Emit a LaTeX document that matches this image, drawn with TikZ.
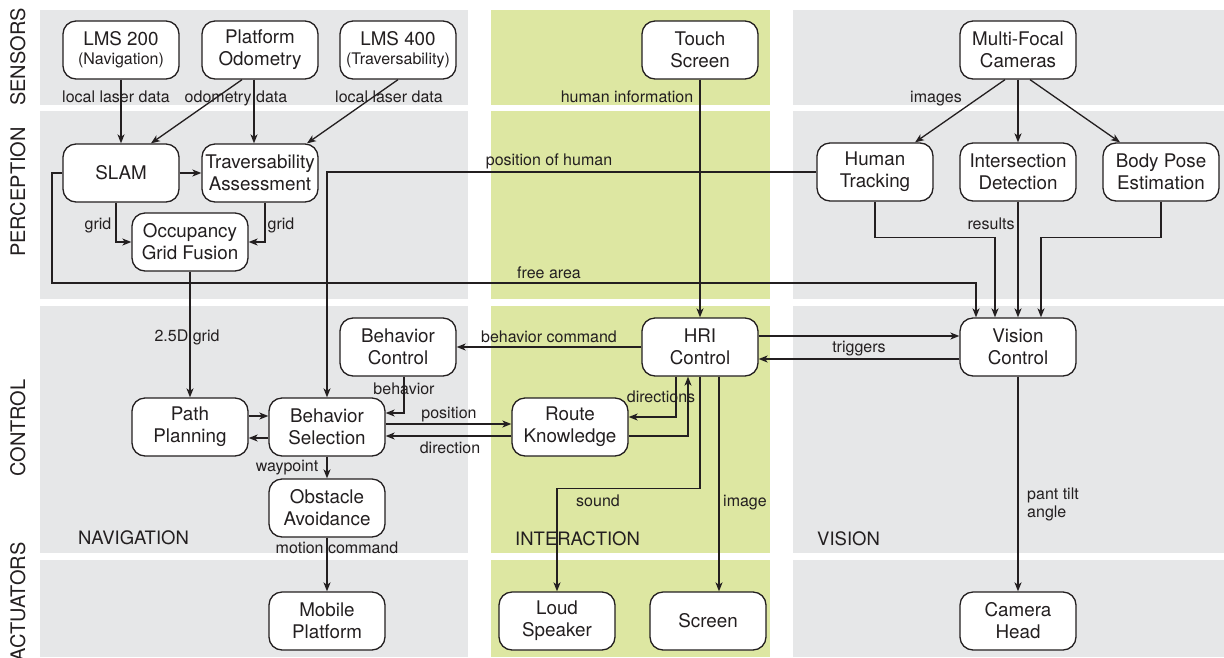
\documentclass[tikz,border=0pt]{standalone}
\usepackage{fontspec}
\setmainfont{TeX Gyre Heros}
\usetikzlibrary{arrows.meta,calc}
\definecolor{panelgray}{RGB}{230,231,232}
\definecolor{panelgreen}{RGB}{221,231,162}
\definecolor{ink}{RGB}{35,31,32}

\begin{document}
\begin{tikzpicture}[x=1pt,y=-1pt,
  box/.style={draw=ink,line width=1.3pt,fill=white,rounded corners=13pt,
    minimum width=116pt,minimum height=58pt,inner sep=0pt,align=center,
    text=ink,font=\fontsize{18.8}{22}\selectfont},
  lbl/.style={inner sep=0pt,anchor=base,text=ink,font=\fontsize{16}{18}\selectfont},
  rowlbl/.style={inner sep=0pt,anchor=base,rotate=90,text=ink,font=\fontsize{20}{24}\selectfont},
  collbl/.style={inner sep=0pt,anchor=base west,text=ink,font=\fontsize{18.5}{22}\selectfont},
  flow/.style={draw=ink,line width=1.3pt},
  arr/.style={flow,-{Stealth[length=9pt,width=7pt,inset=2.5pt]}},
]
\useasboundingbox (0,0) rectangle (1224,657);

% background panels: three columns by four layers
\foreach \ya/\yb in {10/105,111/299,306/553,560/657}{
  \fill[panelgray]  (40,\ya)  rectangle (468,\yb);
  \fill[panelgreen] (491,\ya) rectangle (770,\yb);
  \fill[panelgray]  (793,\ya) rectangle (1224,\yb);
}

% layer names
\node[rowlbl] (rsens) at (25,57)  {SENSORS};
\node[rowlbl] (rperc) at (25,192) {PERCEPTION};
\node[rowlbl] (rctrl) at (25,428) {CONTROL};
\node[rowlbl] (ract)  at (25,602) {ACTUATORS};

% column names
\node[collbl] (cnav) at (78,544)  {NAVIGATION};
\node[collbl] (cint) at (515,545) {INTERACTION};
\node[collbl] (cvis) at (817,545) {VISION};

% sensors
\node[box] (lms2)  at (121,50)  {LMS 200\\[-3pt]{\fontsize{16}{18}\selectfont(Navigation)}};
\node[box] (odo)   at (260,50)  {Platform\\Odometry};
\node[box] (lms4)  at (398,50)  {LMS 400\\[-3pt]{\fontsize{16}{18}\selectfont(Traversability)}};
\node[box] (touch) at (700,50)  {Touch\\Screen};
\node[box] (mfc)   at (1018,50) {Multi-Focal\\Cameras};

% perception
\node[box] (slam) at (121,173)  {SLAM};
\node[box] (trav) at (260,173)  {Traversability\\Assessment};
\node[box] (ogf)  at (190,242)  {Occupancy\\Grid Fusion};
\node[box] (ht)   at (875,172)  {Human\\Tracking};
\node[box] (isd)  at (1018,172) {Intersection\\Detection};
\node[box] (bpe)  at (1161,172) {Body Pose\\Estimation};

% control
\node[box] (bc)  at (398,347)  {Behavior\\Control};
\node[box] (hri) at (700,347)  {HRI\\Control};
\node[box] (vc)  at (1018,347) {Vision\\Control};
\node[box] (pp)  at (190,427)  {Path\\Planning};
\node[box] (bs)  at (327,427)  {Behavior\\Selection};
\node[box] (rk)  at (570,427)  {Route\\Knowledge};
\node[box] (oa)  at (327,508)  {Obstacle\\Avoidance};

% actuators
\node[box] (mp)  at (327,621)  {Mobile\\Platform};
\node[box] (ls)  at (557,621)  {Loud\\Speaker};
\node[box] (scr) at (708,621)  {Screen};
\node[box] (ch)  at (1018,621) {Camera\\Head};

% sensor data flows
\draw[arr] (lms2.south) -- (slam.north);
\node[lbl] (t1) at (116,102) {local laser data};
\draw[arr] ([xshift=-18pt]odo.south) -- ([xshift=30pt]slam.north);
\node[lbl] (t2) at (236,102) {odometry data};
\draw[arr] ([xshift=-6pt]odo.south) -- ([xshift=-6pt]trav.north);
\draw[arr] (lms4.south) -- ([xshift=47pt]trav.north);
\node[lbl] (t3) at (389,102) {local laser data};
\draw[arr] (touch.south) -- (hri.north);
\node[lbl] (t4) at (627,102) {human information};
\draw[arr] ([xshift=-13pt]mfc.south) -- ([xshift=40pt]ht.north);
\node[lbl] (t5) at (936,102) {images};
\draw[arr] (mfc.south) -- (isd.north);
\draw[arr] ([xshift=12pt]mfc.south) -- ([xshift=-41pt]bpe.north);

% perception flows
\draw[arr] (slam.east) -- (trav.west);
\draw[arr] ([xshift=-5pt]slam.south) |- (ogf.west);
\node[lbl] (t6) at (98,229) {grid};
\draw[arr] ([xshift=5pt]trav.south) |- (ogf.east);
\node[lbl] (t7) at (281,229) {grid};
\coordinate (fa) at (52,283);
\draw[arr] (slam.west) -| (fa) -| ([xshift=-42pt]vc.north);
\node[lbl] (t8) at (549,278) {free area};
\draw[arr] (ogf.south) -- (pp.north);
\node[lbl] (t9) at (187,341) {2.5D grid};
\draw[arr] (ht.west) -| (bs.north);
\node[lbl] (t10) at (549,165) {position of human};
\draw[arr] (ht.south) -- ++(0,36) -| ([xshift=-23pt]vc.north);
\draw[arr] (isd.south) -- (vc.north);
\node[lbl] (t11) at (991,229) {results};
\draw[arr] (bpe.south) -- ++(0,36) -| ([xshift=23pt]vc.north);

% control flows
\draw[arr] (hri.west) -- (bc.east);
\node[lbl] (t12) at (549,342) {behavior command};
\draw[arr] ([yshift=11pt]hri.east) -- ([yshift=11pt]vc.west);
\draw[arr] ([yshift=-12pt]vc.west) -- ([yshift=-12pt]hri.east);
\node[lbl] (t13) at (859,352) {triggers};
\draw[arr] ([xshift=6pt]bc.south) |- ([yshift=14pt]bs.east);
\node[lbl] (t14) at (404,394) {behavior};
\draw[arr] ([yshift=11pt]pp.east) -- ([yshift=11pt]bs.west);
\draw[arr] ([yshift=-11pt]bs.west) -- ([yshift=-11pt]pp.east);
\draw[arr] ([yshift=3pt]bs.east) -- ([yshift=3pt]rk.west);
\node[lbl] (t15) at (449,418) {position};
\draw[arr] ([yshift=-9pt]rk.west) -- ([yshift=-9pt]bs.east);
\node[lbl] (t16) at (450,453) {direction};
\draw[arr] ([xshift=-24pt]hri.south) |- ([yshift=10pt]rk.east);
\draw[arr] ([yshift=-9pt]rk.east) -| ([xshift=-12pt]hri.south);
\node[lbl] (t17) at (661,402) {directions};
\draw[arr] (hri.south) -- ++(0,112) -| (ls.north);
\node[lbl] (t18) at (598,506) {sound};
\draw[arr] ([xshift=19pt]hri.south) -- ([xshift=11pt]scr.north);
\node[lbl] (t19) at (745,506) {image};
\draw[arr] (bs.south) -- (oa.north);
\node[lbl] (t20) at (287,471) {waypoint};
\draw[arr] (oa.south) -- (mp.north);
\node[lbl] (t21) at (337,553) {motion command};
\draw[arr] (vc.south) -- (ch.north);
\node[lbl,anchor=west,align=left] (t22) at (1027,504) {pant tilt\\angle};

\end{tikzpicture}
\end{document}
